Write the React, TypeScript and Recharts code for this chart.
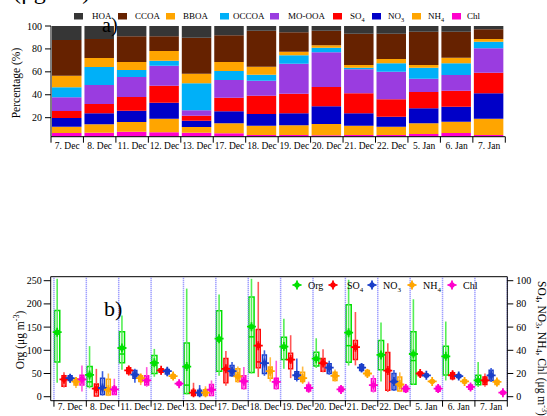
import React from 'react';
import {
  BarChart,
  Bar,
  XAxis,
  YAxis,
  ComposedChart,
  Scatter,
  ReferenceArea,
  ReferenceLine,
} from 'recharts';

const days = ['7. Dec', '8. Dec', '11. Dec', '12. Dec', '13. Dec', '17. Dec', '18. Dec', '19. Dec', '20. Dec', '21. Dec', '22. Dec', '5. Jan', '6. Jan', '7. Jan'];

// ---- panel a) : fractional composition (%) ----
const chlPct = [6.6, 6.9, 7.8, 7.2, 6.9, 6.4, 4.9, 4.9, 4.6, 4.9, 4.9, 5.8, 6.6, 4.9];
const nh4Pct = [5.5, 7.3, 8.4, 11.9, 5.0, 8.7, 8.1, 8.4, 9.9, 8.1, 7.2, 9.3, 9.9, 14.2];
const no3Pct = [7.6, 9.6, 9.9, 14.0, 5.5, 10.5, 10.2, 10.5, 15.4, 10.8, 8.8, 13.1, 13.1, 22.2];
const so4Pct = [6.1, 8.1, 11.9, 14.8, 4.3, 11.8, 16.0, 17.1, 16.9, 17.5, 15.1, 14.2, 13.9, 18.0];
const moooaPct = [12.0, 16.6, 17.5, 17.5, 4.7, 15.5, 13.1, 26.2, 30.2, 20.9, 24.1, 11.6, 13.7, 21.2];
const occoaPct = [8.7, 15.7, 6.1, 4.3, 23.6, 7.8, 5.1, 7.3, 4.1, 1.4, 7.4, 9.6, 10.3, 5.8];
const bboaPct = [10.1, 7.9, 7.0, 8.5, 8.4, 7.9, 7.0, 3.2, 2.1, 2.4, 3.7, 2.4, 4.8, 2.4];
const ccoaPct = [31.2, 16.6, 22.4, 12.8, 31.4, 23.3, 31.4, 16.9, 12.7, 27.3, 22.1, 29.0, 22.7, 8.4];
const hoaPct = [12.2, 11.3, 9.0, 9.0, 10.2, 8.1, 4.4, 5.5, 4.1, 6.7, 6.7, 5.0, 5.0, 2.9];

// ---- panel b) : box statistics [low, q1, median, q3, high, mean] ----
const orgBox = [
  [30, 75, 135, 186, 254, 139],
  [18, 22, 32, 65, 109, 47],
  [58, 73, 92, 140, 175, 105],
  [43, 50, 68, 89, 103, 73],
  [5, 7, 25, 116, 233, 65],
  [45, 55, 120, 185, 220, 125],
  [50, 52, 129, 215, 254, 151],
  [60, 80, 105, 128, 168, 108],
  [62, 66, 80, 96, 126, 82],
  [67, 74, 110, 198, 252, 138],
  [33, 58, 88, 121, 160, 90],
  [25, 27, 78, 140, 210, 92],
  [35, 47, 85, 109, 162, 87],
  [21, 26, 35, 46, 75, 35],
];
const so4Box = [
  [8, 9, 15, 18, 21, 15],
  [0.5, 0.6, 7, 11, 24, 7],
  [18, 20, 22.5, 25, 27, 22.7],
  [19, 21, 22.5, 24, 25, 22.7],
  [0.5, 1, 3, 5.5, 12, 3.5],
  [9.5, 12, 23, 33, 39.5, 24],
  [17, 25, 30, 58, 99, 44],
  [16, 24, 30, 37.5, 53, 32],
  [21, 22, 28, 33, 41, 29],
  [27, 32, 41, 48.5, 73, 42.7],
  [4, 5.5, 22, 38, 46, 22.5],
  [17, 18, 20, 21, 23, 20],
  [14, 15.5, 18, 20.7, 23, 18.5],
  [8.5, 10.5, 14, 17, 20, 14],
];
const no3Box = [
  [12, 14, 16, 18, 19, 16],
  [1, 2, 7, 16, 22, 7.5],
  [12, 16, 19, 22.5, 24, 19],
  [17.5, 19.5, 22, 23.5, 25, 22],
  [0.5, 1, 3.5, 5.5, 10, 3.5],
  [17, 18, 21, 27, 30, 22],
  [18, 20, 28, 36, 40, 29],
  [13, 15, 18, 21.5, 33, 18.5],
  [19, 20, 25, 28.5, 31, 25],
  [21, 22.5, 25, 27.5, 29, 25],
  [5, 6, 13, 20, 23, 13],
  [17, 17.5, 18.4, 19.3, 20, 18.4],
  [15.5, 16.5, 17.8, 19, 20, 17.8],
  [12.7, 14, 18, 22.7, 24.7, 18.4],
];
const nh4Box = [
  [7.5, 10, 13, 15.5, 17, 13],
  [0.5, 1.5, 6, 15, 20, 6],
  [10, 13, 16, 18, 20, 16],
  [15.5, 16, 18, 19, 20, 17.8],
  [0.5, 1, 3.5, 6, 9, 3.5],
  [12, 13, 17, 24, 26, 17.5],
  [13, 16, 22, 25.5, 34, 22],
  [11, 13, 16, 21, 26, 16],
  [13, 14, 18, 21, 23.5, 18],
  [17, 18, 20, 22.5, 24, 20],
  [4, 5, 10, 17, 21, 10.5],
  [12, 12.5, 13.2, 14, 15, 13.2],
  [11, 12, 13, 14.5, 15.5, 13.2],
  [9, 10.5, 12.7, 14, 15, 12.7],
];
const chlBox = [
  [4.5, 10, 14, 18.5, 27, 15],
  [1.8, 2, 6, 8.4, 15.5, 6.3],
  [8.5, 10, 13, 18, 25.5, 14],
  [9, 10, 11, 12.5, 13, 11.2],
  [0.5, 1, 5, 10.5, 14, 6],
  [6, 7, 13, 18, 25.5, 13.3],
  [6, 7, 13, 16, 31, 12.7],
  [3.5, 5, 7.5, 10, 13, 7.5],
  [3.5, 4.5, 6.3, 8.4, 9, 6.3],
  [3.5, 5, 10, 15.5, 18.5, 10],
  [3.5, 4.5, 7, 9, 11, 7],
  [3.5, 4.6, 7, 9, 10.5, 7],
  [5.5, 6.5, 8.4, 10, 11, 8.4],
  [1.2, 2.5, 3.5, 4.5, 5.5, 3.5],
];

const leftTicks = [0, 50, 100, 150, 200, 250];
const rightTicks = [0, 20, 40, 60, 80, 100];
const pctTicks = [20, 40, 60, 80, 100];

const FONT = 'Liberation Serif, Times New Roman, serif';

// build tables for the library
const topData = days.map((d, i) => ({
  x: i + 0.5,
  day: d,
  Chl: chlPct[i],
  NH4: nh4Pct[i],
  NO3: no3Pct[i],
  SO4: so4Pct[i],
  MOOOA: moooaPct[i],
  OCCOA: occoaPct[i],
  BBOA: bboaPct[i],
  CCOA: ccoaPct[i],
  HOA: hoaPct[i],
}));

const stack = [
  { key: 'Chl', color: '#ff00cc' },
  { key: 'NH4', color: '#ffa500' },
  { key: 'NO3', color: '#0000c8' },
  { key: 'SO4', color: '#ff0000' },
  { key: 'MOOOA', color: '#9a3ce0' },
  { key: 'OCCOA', color: '#00b0f8' },
  { key: 'BBOA', color: '#ffa500' },
  { key: 'CCOA', color: '#662200' },
  { key: 'HOA', color: '#363636' },
];

const species = [
  { name: 'Org', box: orgBox, color: '#00e000', whisker: '#55ee55', axis: 'L', off: 0.1, w: 0.16 },
  { name: 'SO4', box: so4Box, color: '#ff0000', whisker: '#ff5555', axis: 'R', off: 0.31, w: 0.12 },
  { name: 'NO3', box: no3Box, color: '#1a3ec8', whisker: '#3a5ee0', axis: 'R', off: 0.5, w: 0.12 },
  { name: 'NH4', box: nh4Box, color: '#ffa500', whisker: '#ffbb44', axis: 'R', off: 0.68, w: 0.12 },
  { name: 'Chl', box: chlBox, color: '#ff00cc', whisker: '#ff55dd', axis: 'R', off: 0.865, w: 0.12 },
];

const xTicks: number[] = [];
for (let k = 0; k <= 28; k++) xTicks.push(k / 2);
const boundaries = Array.from({ length: 15 }, (_, k) => k);

const makeDayTick = (textOffset: number, fontSize: number) => (props: any) => {
  const { x, y, payload } = props;
  const v = payload.value;
  if (Math.abs(v - Math.round(v)) < 1e-6) {
    return <line x1={x} x2={x} y1={y} y2={y + 6} stroke="#000" strokeWidth={1} />;
  }
  const i = Math.floor(v);
  return (
    <text x={x} y={y + textOffset} dy="0.71em" textAnchor="middle" fontSize={fontSize} fontFamily={FONT} fill="#000">
      {days[i]}
    </text>
  );
};

const Star = ({ cx, cy, color }: any) => {
  if (cx == null || cy == null) return null;
  return (
    <g>
      <line x1={cx - 4.5} x2={cx + 4.5} y1={cy} y2={cy} stroke={color} strokeWidth={1.8} />
      <line x1={cx} x2={cx} y1={cy - 4.5} y2={cy + 4.5} stroke={color} strokeWidth={1.8} />
      <circle cx={cx} cy={cy} r={2.7} fill={color} />
    </g>
  );
};

// text with one trailing subscript, e.g. SO4
const ChemLabel = ({ x, y, base, sub, size }: any) => (
  <text x={x} y={y} fontSize={size} fontFamily={FONT} fill="#000">
    {base}
    {sub ? <tspan dy={2.5} fontSize={size * 0.7}>{sub}</tspan> : null}
  </text>
);

const TopLegend = () => {
  const items = [
    { sq: 74, tx: 92, color: '#363636', base: 'HOA', sub: '' },
    { sq: 118, tx: 135, color: '#662200', base: 'CCOA', sub: '' },
    { sq: 166, tx: 183, color: '#ffa500', base: 'BBOA', sub: '' },
    { sq: 220, tx: 233, color: '#00b0f8', base: 'OCCOA', sub: '' },
    { sq: 270, tx: 288, color: '#9a3ce0', base: 'MO-OOA', sub: '' },
    { sq: 333, tx: 350, color: '#ff0000', base: 'SO', sub: '4' },
    { sq: 372, tx: 388, color: '#0000c8', base: 'NO', sub: '3' },
    { sq: 412, tx: 428, color: '#ffa500', base: 'NH', sub: '4' },
    { sq: 452, tx: 467, color: '#ff00cc', base: 'Chl', sub: '' },
  ];
  return (
    <g>
      {items.map((it, i) => (
        <g key={i}>
          <rect x={it.sq} y={13} width={9} height={6.5} fill={it.color} />
          <ChemLabel x={it.tx} y={19} base={it.base} sub={it.sub} size={9} />
        </g>
      ))}
    </g>
  );
};

const BottomLegend = () => {
  const items = [
    { mx: 297, tx: 308, color: '#00e000', base: 'Org', sub: '' },
    { mx: 333, tx: 347, color: '#ff0000', base: 'SO', sub: '4' },
    { mx: 372, tx: 383, color: '#1a3ec8', base: 'NO', sub: '3' },
    { mx: 412, tx: 423, color: '#ffa500', base: 'NH', sub: '4' },
    { mx: 452, tx: 463, color: '#ff00cc', base: 'Chl', sub: '' },
  ];
  return (
    <g>
      {items.map((it, i) => (
        <g key={i}>
          <Star cx={it.mx} cy={285} color={it.color} />
          <ChemLabel x={it.tx} y={289} base={it.base} sub={it.sub} size={10} />
        </g>
      ))}
    </g>
  );
};

export default function App() {
  const topTick = makeDayTick(6, 9.5);
  const botTick = makeDayTick(3, 9.5);

  const boxElems: React.ReactNode[] = [];
  species.forEach((s) => {
    s.box.forEach((b, i) => {
      const cx = i + s.off;
      boxElems.push(
        <ReferenceLine
          key={`w-${s.name}-${i}`}
          xAxisId="x"
          yAxisId={s.axis}
          segment={[{ x: cx, y: b[0] }, { x: cx, y: b[4] }]}
          stroke={s.whisker}
          strokeWidth={1.6}
          ifOverflow="visible"
        />
      );
      boxElems.push(
        <ReferenceArea
          key={`b-${s.name}-${i}`}
          xAxisId="x"
          yAxisId={s.axis}
          x1={cx - s.w / 2}
          x2={cx + s.w / 2}
          y1={b[1]}
          y2={b[3]}
          fill="#ffffff"
          fillOpacity={0}
          stroke={s.color}
          strokeWidth={1.5}
          ifOverflow="visible"
        />
      );
      boxElems.push(
        <ReferenceLine
          key={`m-${s.name}-${i}`}
          xAxisId="x"
          yAxisId={s.axis}
          segment={[{ x: cx - s.w / 2, y: b[2] }, { x: cx + s.w / 2, y: b[2] }]}
          stroke={s.color}
          strokeWidth={1.5}
          ifOverflow="visible"
        />
      );
    });
  });

  return (
    <div style={{ position: 'absolute', left: 0, top: 0, width: 547, height: 416, background: '#fff', overflow: 'hidden' }}>
      <div style={{ position: 'absolute', left: 0, top: 0 }}>
        <BarChart width={547} height={165} data={topData} margin={{ top: 26, right: 41.7, left: 0, bottom: 0 }}>
          <XAxis
            dataKey="x"
            type="number"
            domain={[0, 14]}
            ticks={xTicks}
            interval={0}
            tickSize={0}
            tickMargin={0}
            tickLine={false}
            tick={topTick}
            height={28.3}
            stroke="#000"
            allowDataOverflow
          />
          <YAxis
            domain={[3.4, 100]}
            allowDataOverflow
            ticks={pctTicks}
            interval={0}
            width={51}
            tickSize={6}
            tickMargin={3}
            stroke="#000"
            tick={{ fontSize: 10, fill: '#000', fontFamily: FONT }}
          />
          {stack.map((s) => (
            <Bar key={s.key} dataKey={s.key} stackId="a" fill={s.color} barSize={29.5} isAnimationActive={false} />
          ))}
        </BarChart>
      </div>

      <div style={{ position: 'absolute', left: 0, top: 250 }}>
        <ComposedChart width={547} height={166} margin={{ top: 26.7, right: 0, left: 0, bottom: 0 }}>
          <XAxis
            xAxisId="x"
            dataKey="x"
            type="number"
            domain={[-0.1, 14]}
            ticks={xTicks}
            interval={0}
            tickSize={0}
            tickMargin={0}
            tickLine={false}
            tick={botTick}
            height={15.3}
            stroke="#000"
            allowDataOverflow
          />
          <YAxis
            yAxisId="L"
            domain={[-8.6, 258.6]}
            allowDataOverflow
            ticks={leftTicks}
            interval={0}
            width={50.7}
            tickSize={7}
            tickMargin={2}
            stroke="#000"
            tick={{ fontSize: 10, fill: '#000', fontFamily: FONT }}
          />
          <YAxis
            yAxisId="R"
            orientation="right"
            domain={[-3.45, 103.45]}
            allowDataOverflow
            ticks={rightTicks}
            interval={0}
            width={39.7}
            tickSize={6}
            tickMargin={3}
            stroke="#000"
            tick={{ fontSize: 10, fill: '#000', fontFamily: FONT }}
          />
          <ReferenceLine xAxisId="x" yAxisId="L" y={258.6} stroke="#000" strokeWidth={1} />
          {boundaries.map((k) => (
            <ReferenceLine
              key={`d-${k}`}
              xAxisId="x"
              yAxisId="L"
              x={k}
              stroke="#7f7fff"
              strokeWidth={1.5}
              strokeDasharray="1 1"
            />
          ))}
          {boxElems}
          {species.map((s) => (
            <Scatter
              key={s.name}
              xAxisId="x"
              yAxisId={s.axis}
              data={s.box.map((b, i) => ({ x: i + s.off, mean: b[5] }))}
              dataKey="mean"
              fill={s.color}
              isAnimationActive={false}
              shape={(p: any) => <Star cx={p.cx} cy={p.cy} color={s.color} />}
            />
          ))}
        </ComposedChart>
      </div>

      <svg width={547} height={416} style={{ position: 'absolute', left: 0, top: 0, pointerEvents: 'none', overflow: 'hidden' }}>
        <text x={13} y={-1.5} fontSize={24} fontFamily={FONT} fill="#000">
          (μg m<tspan dy={-9} fontSize={14}>-3</tspan><tspan dy={9}>)</tspan>
        </text>
        <TopLegend />
        <text x={102} y={32} fontSize={20} fontFamily={FONT} fill="#000">a)</text>
        <text x={104} y={316} fontSize={22} fontFamily={FONT} fill="#000">b)</text>
        <text
          x={16}
          y={83}
          transform="rotate(-90 16 83)"
          textAnchor="middle"
          dominantBaseline="central"
          fontSize={11.5}
          fontFamily={FONT}
          fill="#000"
        >
          Percentage (%)
        </text>
        <text
          x={20}
          y={340}
          transform="rotate(-90 20 340)"
          textAnchor="middle"
          dominantBaseline="central"
          fontSize={11.5}
          fontFamily={FONT}
          fill="#000"
        >
          Org (μg m<tspan dy={-4} fontSize={8}>-3</tspan><tspan dy={4}>)</tspan>
        </text>
        <text
          x={538}
          y={281}
          transform="rotate(90 538 281)"
          fontSize={11.5}
          fontFamily={FONT}
          fill="#000"
        >
          SO<tspan dy={2.5} fontSize={8}>4</tspan>
          <tspan dy={-2.5}>, NO</tspan>
          <tspan dy={2.5} fontSize={8}>3</tspan>
          <tspan dy={-2.5}>, NH</tspan>
          <tspan dy={2.5} fontSize={8}>4</tspan>
          <tspan dy={-2.5}>, Chl (μg m</tspan>
          <tspan dy={-4} fontSize={8}>-3</tspan>
          <tspan dy={4}>)</tspan>
        </text>
        <BottomLegend />
      </svg>
    </div>
  );
}
